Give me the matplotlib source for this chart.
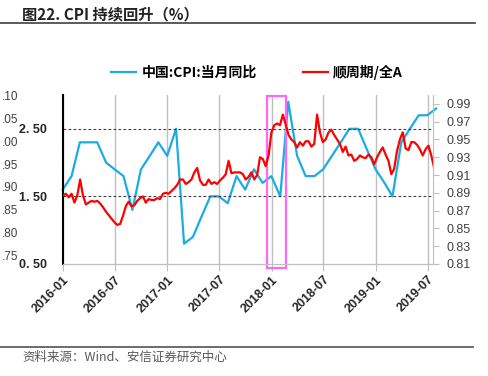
import matplotlib
matplotlib.use('Agg')
import matplotlib.pyplot as plt
import matplotlib.dates as mdates
import matplotlib.transforms as mtransforms
from matplotlib.patches import Rectangle
from matplotlib.lines import Line2D
import pandas as pd

plt.rcParams['font.family'] = ['Noto Sans CJK SC', 'DejaVu Sans']

# CPI YoY, month-end, Dec-2015 .. Jul-2019
cpi_values = [1.6,
              1.8, 2.3, 2.3, 2.3, 2.0, 1.9, 1.8, 1.3, 1.9, 2.1, 2.3, 2.1,
              2.5, 0.8, 0.9, 1.2, 1.5, 1.5, 1.4, 1.8, 1.6, 1.9, 1.7, 1.8,
              1.5, 2.9, 2.1, 1.8, 1.8, 1.9, 2.1, 2.3, 2.5, 2.5, 2.2, 1.9,
              1.7, 1.5, 2.3, 2.5, 2.7, 2.7, 2.8]
cpi_dates = pd.date_range('2015-12-31', periods=len(cpi_values), freq=pd.offsets.MonthEnd())

# cyclical / all-A ratio, read every 10 days from 2016-01-01
ratio_values = [0.887, 0.889, 0.885, 0.889, 0.879, 0.887, 0.905, 0.887, 0.877, 0.879,
                0.881, 0.880, 0.881, 0.878, 0.874, 0.869, 0.865, 0.861, 0.857, 0.854,
                0.855, 0.864, 0.875, 0.880, 0.875, 0.876, 0.881, 0.884, 0.886, 0.879,
                0.883, 0.882, 0.882, 0.884, 0.883, 0.889, 0.890, 0.889, 0.892, 0.895,
                0.899, 0.905, 0.905, 0.900, 0.902, 0.905, 0.913, 0.918, 0.904, 0.899,
                0.899, 0.905, 0.900, 0.902, 0.900, 0.904, 0.907, 0.911, 0.926, 0.912,
                0.913, 0.913, 0.913, 0.911, 0.905, 0.908, 0.913, 0.905, 0.910, 0.930,
                0.928, 0.920, 0.932, 0.958, 0.966, 0.968, 0.966, 0.978, 0.967, 0.955,
                0.950, 0.947, 0.941, 0.947, 0.943, 0.948, 0.948, 0.942, 0.945, 0.978,
                0.958, 0.947, 0.950, 0.958, 0.961, 0.955, 0.950, 0.945, 0.936, 0.942,
                0.932, 0.933, 0.926, 0.928, 0.932, 0.930, 0.929, 0.933, 0.930, 0.922,
                0.930, 0.936, 0.941, 0.933, 0.926, 0.911, 0.917, 0.937, 0.950, 0.958,
                0.940, 0.938, 0.947, 0.947, 0.944, 0.939, 0.932, 0.939, 0.943, 0.932,
                0.918]
ratio_dates = pd.date_range('2016-01-01', periods=len(ratio_values), freq='10D')

left_ticks = [0.5, 1.5, 2.5]
left_labels = ['0. 50', '1. 50', '2. 50']
right_ticks = [0.81, 0.83, 0.85, 0.87, 0.89, 0.91, 0.93, 0.95, 0.97, 0.99]
# visible remains of a neighbouring chart's axis at the left edge
cut_labels = ['.10', '.05', '.00', '.95', '.90', '.85', '.80', '.75']
highlight = ('2017-12-15', '2018-02-20')

W, H = 488, 376
fig = plt.figure(figsize=(W / 100, H / 100), dpi=100)
ax1 = fig.add_axes([63 / W, 1 - 264 / H, 370 / W, 169 / H])
ax2 = ax1.twinx()

blue = '#1AACE3'
red = '#FF0000'
ax1.plot(cpi_dates, cpi_values, color=blue, lw=1.6, clip_on=False,
         solid_joinstyle='round', label='中国:CPI:当月同比')
ax2.plot(ratio_dates, ratio_values, color=red, lw=1.6,
         solid_joinstyle='round', label='顺周期/全A')

ax1.set_xlim(pd.Timestamp('2016-01-01'), pd.Timestamp('2019-07-20'))
ax1.set_ylim(0.5, 3.0)
ax2.set_ylim(0.81, 1.00)

# x axis
ax1.xaxis.set_major_locator(mdates.MonthLocator(bymonth=[1, 7]))
ax1.xaxis.set_major_formatter(mdates.DateFormatter('%Y-%m'))
ax1.grid(axis='x', color='#BFBFBF', lw=1)
ax1.tick_params(axis='x', length=5, color='#BFBFBF', pad=2)
for lab in ax1.get_xticklabels():
    lab.set_rotation(45)
    lab.set_ha('right')
    lab.set_rotation_mode('anchor')
    lab.set_fontweight('bold')
    lab.set_fontsize(9)
    lab.set_family('Liberation Sans')
    lab.set_color('#262626')

# left axis
ax1.set_yticks(left_ticks)
ax1.set_yticklabels(left_labels, fontweight='bold', fontsize=9,
                    family='Liberation Sans', color='#262626')
ax1.tick_params(axis='y', length=0, pad=11.5)
for y in left_ticks[1:]:
    ax1.axhline(y, color='#404040', lw=0.8, ls=(0, (2.5, 2)))

# right axis
ax2.set_yticks(right_ticks)
ax2.set_yticklabels(['%.2f' % t for t in right_ticks], fontsize=9,
                    family='Liberation Sans', color='#404040')
ax2.tick_params(axis='y', length=4, color='#BFBFBF', pad=6)

for ax in (ax1, ax2):
    ax.spines['top'].set_visible(False)
    ax.spines['bottom'].set_color('#BFBFBF')
ax1.spines['right'].set_visible(False)
ax2.spines['left'].set_visible(False)
ax1.spines['left'].set_color('black')
ax1.spines['left'].set_linewidth(1.5)
ax2.spines['right'].set_color('#BFBFBF')

# highlight box
trans = mtransforms.blended_transform_factory(ax2.transData, ax2.transAxes)
x0 = mdates.date2num(pd.Timestamp(highlight[0]))
x1 = mdates.date2num(pd.Timestamp(highlight[1]))
ax2.add_patch(Rectangle((x0, -0.025), x1 - x0, 1.02, transform=trans,
                        fill=False, ec='#FF66FF', lw=1.6, clip_on=False))

# legend
h1, l1 = ax1.get_legend_handles_labels()
h2, l2 = ax2.get_legend_handles_labels()
fig.legend(h1 + h2, l1 + l2, loc='center', bbox_to_anchor=(257 / W, 1 - 72 / H),
           ncol=2, frameon=False, handlelength=1.8, handletextpad=0.4,
           columnspacing=3.3, prop={'weight': 'bold', 'size': 10})

for i, t in enumerate(cut_labels):
    fig.text(1.5 / W, 1 - (97 + i * 22.86) / H, t, ha='left', va='center',
             fontsize=8.5, family='Liberation Sans', color='#404040')

# title, rules and source
fig.text(22 / W, 1 - 14 / H, '图22. CPI 持续回升（%）', fontsize=11,
         fontweight='bold', va='center', color='#222222')
fig.add_artist(Line2D([0, 475 / W], [1 - 23 / H] * 2, color='#404040', lw=1.2))
fig.add_artist(Line2D([0, 473 / W], [1 - 347 / H] * 2, color='#606060', lw=1.3))
fig.text(22 / W, 1 - 357 / H, '资料来源：Wind、安信证券研究中心', fontsize=9,
         va='center', color='#595959')

fig.savefig('out.png', dpi=100)
